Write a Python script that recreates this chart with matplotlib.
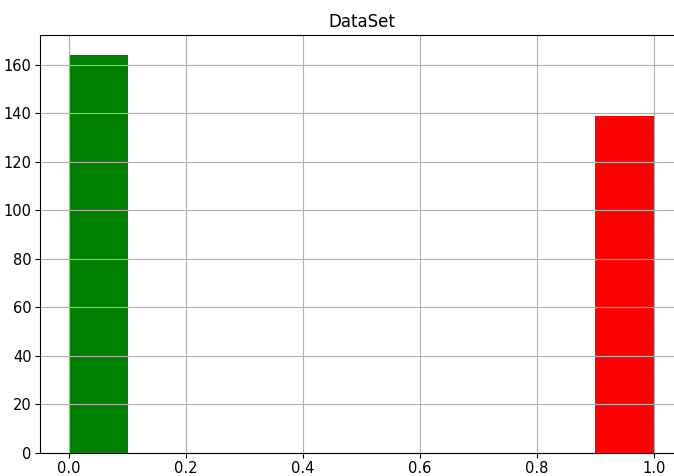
import matplotlib
matplotlib.use("Agg")
import matplotlib.pyplot as plt
import numpy as np

# histogram data (10 bins over 0..1)
bin_edges = [0.0, 0.1, 0.2, 0.3, 0.4, 0.5, 0.6, 0.7, 0.8, 0.9, 1.0]
counts = [164, 0, 0, 0, 0, 0, 0, 0, 0, 139]
bar_colors = ['green', 'tab:blue', 'tab:blue', 'tab:blue', 'tab:blue',
              'tab:blue', 'tab:blue', 'tab:blue', 'tab:blue', 'red']
title = 'DataSet'

plt.rcParams['font.family'] = ['DejaVu Sans Condensed', 'Liberation Sans Narrow', 'DejaVu Sans']

fig = plt.figure(figsize=(6.74, 4.76), dpi=100)
ax = fig.add_axes([40 / 674, 23 / 476, 643 / 674, 418 / 476])

edges = np.array(bin_edges)
ax.bar(edges[:-1], counts, width=np.diff(edges), align='edge', color=bar_colors)

ax.set_xlim(-0.05, 1.05)
ax.set_ylim(0, max(counts) * 1.05)
ax.set_xticks(np.arange(0, 1.01, 0.2))
ax.set_yticks(np.arange(0, 161, 20))
ax.tick_params(labelsize=10.5, pad=2.5)
ax.grid(True, color='#b0b0b0', linewidth=0.8)
ax.set_title(title, fontsize=12, pad=6)

fig.savefig('out.png', dpi=100)
